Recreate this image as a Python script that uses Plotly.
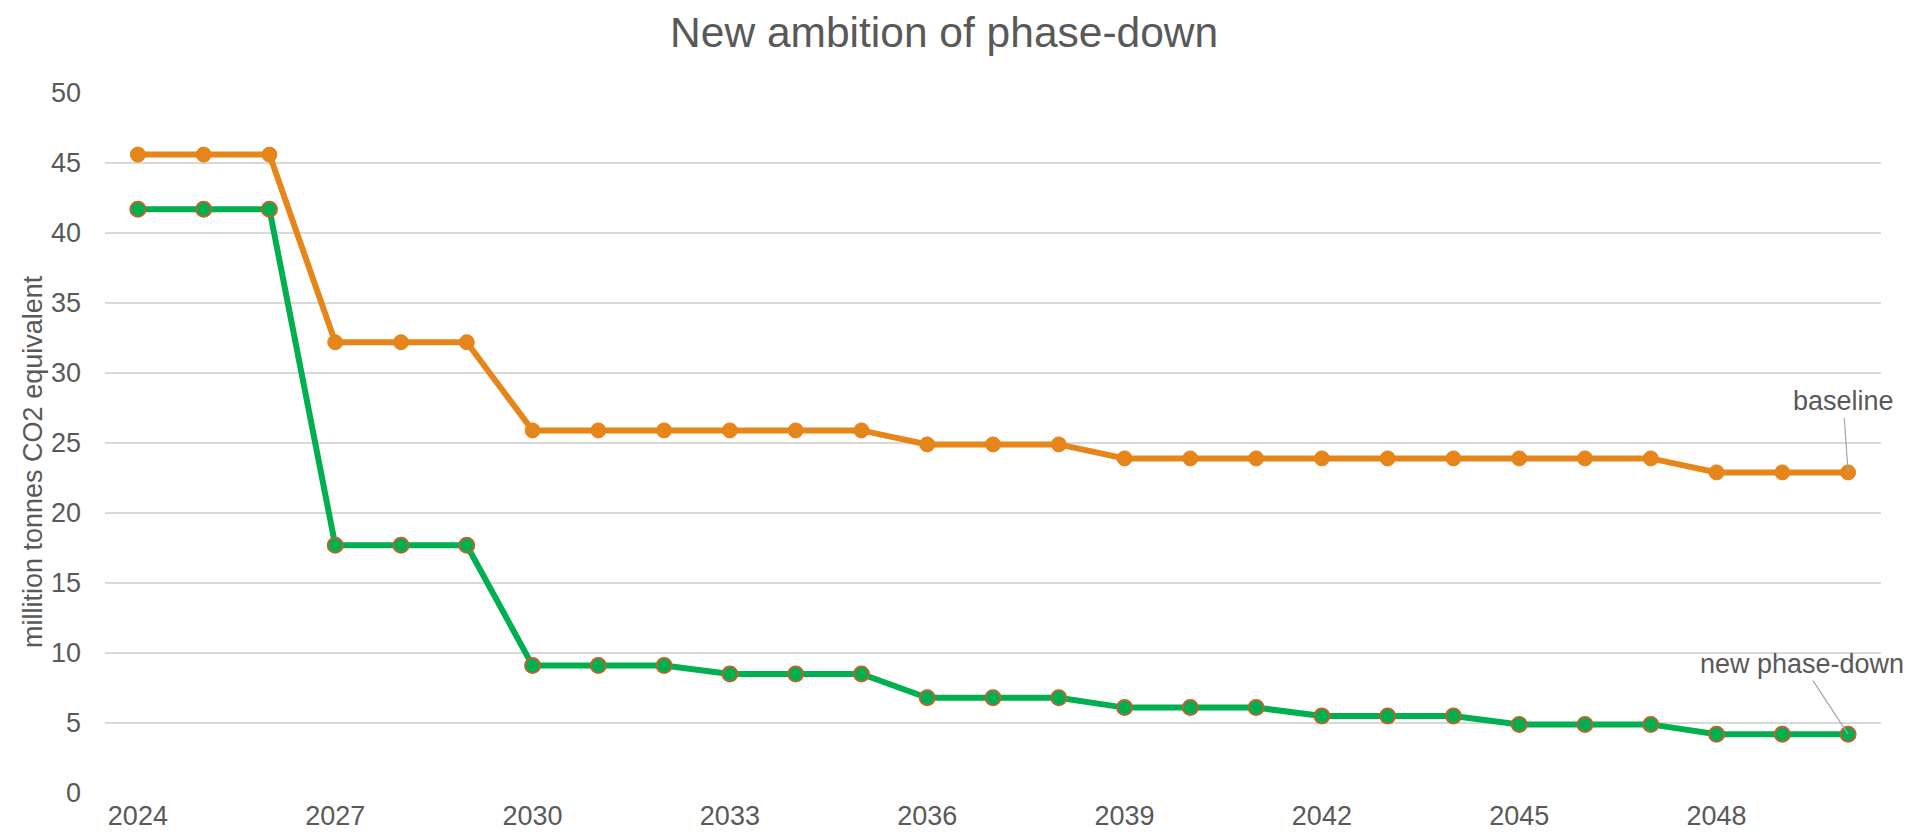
import plotly.graph_objects as go

years = list(range(2024, 2051))
baseline = [45.6, 45.6, 45.6, 32.2, 32.2, 32.2,
            25.9, 25.9, 25.9, 25.9, 25.9, 25.9,
            24.9, 24.9, 24.9,
            23.9, 23.9, 23.9, 23.9, 23.9, 23.9, 23.9, 23.9, 23.9,
            22.9, 22.9, 22.9]
phase_down = [41.7, 41.7, 41.7, 17.7, 17.7, 17.7,
              9.1, 9.1, 9.1, 8.5, 8.5, 8.5,
              6.8, 6.8, 6.8, 6.1, 6.1, 6.1,
              5.5, 5.5, 5.5, 4.9, 4.9, 4.9,
              4.2, 4.2, 4.2]
x_ticks = list(range(2024, 2050, 3))
y_ticks = list(range(0, 51, 5))

ORANGE = "#E6851A"
GREEN = "#00B050"
TEXT = "#595959"
FONT = "Liberation Sans, Arial, sans-serif"

W, H = 1895, 823

fig = go.Figure()
fig.add_trace(go.Scatter(
    x=years, y=baseline, mode="lines+markers", name="baseline",
    line=dict(color=ORANGE, width=6),
    marker=dict(color=ORANGE, size=15, line=dict(color=ORANGE, width=1)),
))
fig.add_trace(go.Scatter(
    x=years, y=phase_down, mode="lines+markers", name="new phase-down",
    line=dict(color=GREEN, width=6),
    marker=dict(color=GREEN, size=15, line=dict(color="#B8652E", width=2)),
))

fig.add_annotation(x=years[-1], y=baseline[-1], text="baseline",
                   showarrow=True, arrowhead=0, arrowwidth=1.2, arrowcolor="#A6A6A6",
                   ax=-5, ay=-71, font=dict(size=27, color=TEXT, family=FONT))
fig.add_annotation(x=years[-1], y=phase_down[-1], text="new phase-down",
                   showarrow=True, arrowhead=0, arrowwidth=1.2, arrowcolor="#A6A6A6",
                   ax=-46, ay=-70, font=dict(size=27, color=TEXT, family=FONT))
fig.add_annotation(xref="paper", yref="paper", x=-0.0405, y=0.473,
                   text="millition tonnes CO2 equivalent", textangle=-90,
                   showarrow=False, xanchor="center", yanchor="middle",
                   font=dict(size=27, color=TEXT, family=FONT))

fig.update_layout(
    width=W, height=H,
    paper_bgcolor="white", plot_bgcolor="white",
    showlegend=False,
    margin=dict(l=97, r=22, t=85, b=38),
    font=dict(family=FONT, color=TEXT),
    title=dict(text="New ambition of phase-down", x=0.494, xanchor="center",
               xref="container", yref="container",
               y=0.989, yanchor="top",
               font=dict(size=42.5, color=TEXT, family=FONT)),
    xaxis=dict(range=[2023.5, 2050.5], tickvals=x_ticks,
               ticktext=[str(t) for t in x_ticks],
               showgrid=False, zeroline=False, showline=False,
               tickfont=dict(size=27, color=TEXT), ticks="",
               ticklabelstandoff=4, automargin=False),
    yaxis=dict(range=[0, 50], tickvals=y_ticks, showgrid=True,
               gridcolor="#D9D9D9", gridwidth=1.5, zeroline=False,
               tickfont=dict(size=27, color=TEXT), ticklabelstandoff=23,
               automargin=False),
)

fig.write_html("out.html")
